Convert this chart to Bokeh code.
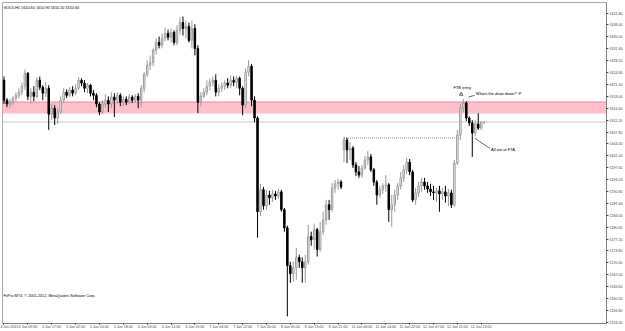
from bokeh.plotting import figure
from bokeh.models import Range1d, FixedTicker, BoxAnnotation, Span, Label, ColumnDataSource
from bokeh.embed import file_html
from bokeh.resources import INLINE

# ---- GOLD,H1 candles (bar index 0 = 4 Jun 2012 01:00) ----
opens = [1622.6, 1616.9, 1615.8, 1616.3, 1617.5, 1618.3, 1619.2, 1620.9, 1624.6, 1618.0,
         1619.2, 1618.0, 1622.6, 1620.6, 1618.9, 1620.3, 1612.9, 1614.6, 1611.8, 1613.5,
         1616.9, 1619.2, 1618.3, 1619.8, 1618.9, 1620.3, 1622.6, 1621.8, 1620.3, 1621.2,
         1618.9, 1618.3, 1615.8, 1613.5, 1615.8, 1616.9, 1615.8, 1617.8, 1616.9, 1618.3,
         1616.3, 1617.2, 1616.3, 1617.8, 1616.9, 1618.0, 1616.9, 1620.3, 1624.3, 1626.9,
         1627.7, 1631.2, 1633.4, 1632.6, 1634.6, 1636.0, 1634.9, 1636.3, 1633.4, 1636.9,
         1639.1, 1637.4, 1638.0, 1634.0, 1637.4, 1631.7, 1616.3, 1618.0, 1619.2, 1620.9,
         1622.0, 1622.6, 1619.2, 1620.3, 1620.9, 1621.8, 1621.2, 1622.6, 1622.0, 1623.2,
         1620.3, 1615.5, 1624.9, 1626.6, 1616.9, 1611.8, 1585.0, 1591.3, 1586.7, 1589.8,
         1589.0, 1590.1, 1589.5, 1590.7, 1585.6, 1580.4, 1569.6, 1567.3, 1569.0, 1571.9,
         1570.7, 1569.0, 1570.7, 1577.9, 1577.0, 1579.9, 1574.2, 1579.3, 1582.7, 1587.0,
         1585.6, 1591.8, 1593.0, 1593.5, 1602.7, 1605.5, 1602.7, 1603.2, 1598.4, 1596.4,
         1595.5, 1597.5, 1599.8, 1600.7, 1597.0, 1593.5, 1589.8, 1591.3, 1592.4, 1592.7,
         1585.6, 1587.0, 1589.8, 1592.4, 1594.7, 1597.0, 1599.2, 1596.4, 1588.4, 1590.4,
         1592.4, 1593.5, 1592.4, 1591.5, 1590.7, 1590.4, 1591.0, 1590.1, 1590.7, 1589.5,
         1590.4, 1587.0, 1598.9, 1606.9, 1614.6, 1616.1, 1611.8, 1610.4, 1607.5, 1610.1,
         1608.9, 1610.6]
closes = [1616.9, 1615.8, 1616.3, 1617.5, 1618.3, 1619.2, 1620.9, 1624.6, 1618.0, 1619.2,
          1618.0, 1622.6, 1620.6, 1618.9, 1620.3, 1612.9, 1614.6, 1611.8, 1613.5, 1616.9,
          1619.2, 1618.3, 1619.8, 1618.9, 1620.3, 1622.6, 1621.8, 1620.3, 1621.2, 1618.9,
          1618.3, 1615.8, 1613.5, 1615.8, 1616.9, 1615.8, 1617.8, 1616.9, 1618.3, 1616.3,
          1617.2, 1616.3, 1617.8, 1616.9, 1618.0, 1616.9, 1620.3, 1624.3, 1626.9, 1627.7,
          1631.2, 1633.4, 1632.6, 1634.6, 1636.0, 1634.9, 1636.3, 1633.4, 1636.9, 1639.1,
          1637.4, 1638.0, 1634.0, 1637.4, 1631.7, 1616.3, 1618.0, 1619.2, 1620.9, 1622.0,
          1622.6, 1619.2, 1620.3, 1620.9, 1621.8, 1621.2, 1622.6, 1622.0, 1623.2, 1620.3,
          1615.5, 1624.9, 1626.6, 1616.9, 1611.8, 1585.0, 1591.3, 1586.7, 1589.8, 1589.0,
          1590.1, 1589.5, 1590.7, 1585.6, 1580.4, 1569.6, 1567.3, 1569.0, 1571.9, 1570.7,
          1569.0, 1570.7, 1577.9, 1577.0, 1579.9, 1574.2, 1579.3, 1582.7, 1587.0, 1585.6,
          1591.8, 1593.0, 1593.5, 1592.1, 1605.5, 1602.7, 1603.2, 1598.4, 1596.4, 1595.5,
          1597.5, 1599.8, 1600.7, 1597.0, 1593.5, 1589.8, 1591.3, 1592.4, 1592.7, 1585.6,
          1587.0, 1589.8, 1592.4, 1594.7, 1597.0, 1599.2, 1596.4, 1588.4, 1590.4, 1592.4,
          1593.5, 1592.4, 1591.5, 1590.7, 1590.4, 1591.0, 1590.1, 1590.7, 1589.5, 1590.4,
          1587.0, 1598.9, 1606.9, 1614.6, 1616.1, 1611.8, 1610.4, 1607.5, 1610.1, 1608.9,
          1610.6, 1610.6]
highs = [1623.7, 1617.5, 1617.2, 1618.0, 1619.2, 1620.3, 1622.0, 1625.7, 1624.9, 1620.3,
         1620.9, 1623.5, 1623.7, 1621.2, 1622.0, 1621.2, 1615.8, 1615.5, 1614.6, 1618.0,
         1620.3, 1620.0, 1620.6, 1620.9, 1621.5, 1623.5, 1623.2, 1622.6, 1621.8, 1621.5,
         1619.8, 1618.9, 1616.3, 1616.9, 1618.6, 1618.0, 1619.2, 1618.9, 1619.2, 1618.9,
         1618.0, 1618.0, 1618.6, 1618.3, 1618.6, 1618.9, 1621.2, 1624.9, 1628.3, 1629.7,
         1631.7, 1634.6, 1635.1, 1636.0, 1637.7, 1637.1, 1637.4, 1636.9, 1638.3, 1640.6,
         1640.8, 1639.7, 1639.1, 1639.7, 1638.6, 1632.6, 1619.2, 1620.3, 1622.6, 1623.2,
         1623.7, 1624.3, 1621.5, 1622.0, 1622.6, 1623.2, 1624.0, 1623.7, 1624.0, 1623.7,
         1620.9, 1626.0, 1628.3, 1627.2, 1618.0, 1612.3, 1593.0, 1592.1, 1591.3, 1591.0,
         1591.3, 1591.0, 1591.5, 1591.3, 1586.1, 1581.0, 1570.7, 1570.7, 1574.7, 1572.7,
         1571.9, 1572.7, 1581.3, 1579.3, 1581.6, 1580.4, 1582.1, 1585.0, 1588.4, 1588.4,
         1593.2, 1594.1, 1594.4, 1594.1, 1606.4, 1606.1, 1604.9, 1603.8, 1599.2, 1598.1,
         1598.4, 1600.9, 1602.4, 1601.5, 1597.5, 1594.1, 1592.4, 1593.2, 1595.5, 1593.2,
         1589.8, 1591.3, 1593.2, 1596.4, 1598.4, 1600.4, 1600.1, 1597.0, 1591.8, 1593.5,
         1594.7, 1594.7, 1593.5, 1593.0, 1592.4, 1591.8, 1592.4, 1591.8, 1592.4, 1591.5,
         1591.3, 1599.8, 1608.4, 1615.8, 1617.2, 1616.6, 1612.3, 1611.2, 1611.2, 1613.2,
         1610.9, 1610.9]
lows = [1615.8, 1614.9, 1614.6, 1615.5, 1616.6, 1617.5, 1618.3, 1619.8, 1616.9, 1615.8,
        1616.6, 1617.5, 1619.8, 1616.9, 1617.8, 1608.4, 1611.2, 1609.8, 1610.1, 1612.9,
        1616.1, 1617.5, 1617.8, 1618.0, 1618.3, 1619.8, 1620.9, 1619.2, 1618.9, 1618.0,
        1616.9, 1614.9, 1612.6, 1612.9, 1614.9, 1613.5, 1614.6, 1612.1, 1615.8, 1615.2,
        1615.2, 1615.5, 1615.8, 1616.1, 1616.1, 1614.6, 1614.9, 1619.2, 1623.5, 1625.5,
        1626.6, 1630.0, 1631.7, 1631.7, 1633.7, 1634.0, 1633.4, 1632.6, 1632.6, 1635.7,
        1635.4, 1634.6, 1633.4, 1631.7, 1629.7, 1613.2, 1615.2, 1617.5, 1618.3, 1619.8,
        1620.9, 1618.0, 1618.0, 1619.2, 1619.8, 1620.3, 1620.3, 1620.9, 1620.3, 1618.3,
        1612.6, 1614.6, 1623.7, 1615.2, 1610.6, 1577.6, 1583.8, 1585.6, 1585.6, 1587.0,
        1587.8, 1588.4, 1588.7, 1585.0, 1579.3, 1555.1, 1564.7, 1565.0, 1565.6, 1569.0,
        1564.7, 1564.7, 1569.9, 1575.3, 1574.2, 1572.2, 1573.6, 1578.4, 1581.3, 1582.7,
        1585.0, 1590.4, 1591.3, 1591.5, 1599.2, 1598.9, 1599.8, 1597.5, 1595.2, 1594.7,
        1594.7, 1597.0, 1598.4, 1596.4, 1592.4, 1587.0, 1589.0, 1590.1, 1590.7, 1582.1,
        1580.7, 1585.0, 1588.4, 1591.3, 1593.5, 1595.8, 1595.5, 1587.8, 1587.0, 1589.3,
        1590.7, 1591.3, 1590.4, 1589.5, 1588.4, 1587.8, 1585.0, 1588.4, 1587.6, 1586.7,
        1586.1, 1586.4, 1598.4, 1605.5, 1613.5, 1610.9, 1609.5, 1600.7, 1606.6, 1608.4,
        1608.4, 1610.1]

x_tick_bars = [0, 8, 16, 24, 32, 40, 48, 56, 64, 72, 80, 88, 96, 104, 112, 120, 128, 136, 144, 152, 160]
x_tick_labels = ["4 Jun 2012", "4 Jun 09:00", "4 Jun 17:00", "5 Jun 02:00", "5 Jun 10:00",
                 "5 Jun 18:00", "6 Jun 03:00", "6 Jun 11:00", "6 Jun 19:00", "7 Jun 04:00",
                 "7 Jun 12:00", "7 Jun 20:00", "8 Jun 05:00", "8 Jun 13:00", "8 Jun 21:00",
                 "11 Jun 06:00", "11 Jun 14:00", "11 Jun 22:00", "12 Jun 07:00",
                 "12 Jun 15:00", "12 Jun 23:00"]
y_ticks = [1641.8, 1638.4, 1635.0, 1631.6, 1628.2, 1624.8, 1621.4, 1618.0, 1614.6, 1611.2,
           1607.8, 1604.4, 1601.0, 1597.6, 1594.2, 1590.8, 1587.4, 1584.0, 1580.6, 1577.2,
           1573.8, 1570.4, 1567.0, 1563.6, 1560.2, 1556.8, 1553.4]
y_tick_labels = ["%.2f" % t for t in y_ticks]

zone_top = 1616.4
zone_bottom = 1613.1
bid_price = 1610.65
fta_price = 1606.1
fta_bars = [114, 153]

title_text = "GOLD,H1  1610.60 1610.90 1610.10 1610.60"
copyright_text = "FxPro MT4, \u00a9 2001-2012, MetaQuotes Software Corp."

FONT = "Liberation Sans"
FS = "3.6px"

bars = list(range(len(opens)))
up = [i for i in bars if closes[i] >= opens[i]]
dn = [i for i in bars if closes[i] < opens[i]]

def make_src(ids):
    return ColumnDataSource(dict(
        x=ids,
        h=[highs[i] for i in ids],
        l=[lows[i] for i in ids],
        top=[max(opens[i], closes[i]) for i in ids],
        bot=[min(opens[i], closes[i]) for i in ids],
    ))

src_up = make_src(up)
src_dn = make_src(dn)

p = figure(width=625, height=331,
           x_range=Range1d(-0.5, 202.0), y_range=Range1d(1553.06, 1644.83),
           output_backend="svg", toolbar_location=None, y_axis_location="right",
           min_border_left=2, min_border_top=2, min_border_right=0, min_border_bottom=0)
p.grid.visible = False
p.background_fill_color = "white"
p.border_fill_color = "white"
p.outline_line_color = "#a8a8a8"
p.outline_line_width = 1

# zone, lines
p.add_layout(BoxAnnotation(top=zone_top, bottom=zone_bottom, fill_color="#ffc0cb",
                           fill_alpha=1.0, line_color=None, level="underlay"))
p.add_layout(Span(location=zone_top, dimension="width", line_color="#c04050",
                  line_dash="1 1", line_width=1, level="underlay"))
p.add_layout(Span(location=bid_price, dimension="width", line_color="#c8c8c8",
                  line_width=1, level="underlay"))
p.line(x=fta_bars, y=[fta_price, fta_price], line_color="#a08060", line_dash="1 1",
       line_width=1)

# candles
p.segment(x0="x", y0="l", x1="x", y1="h", source=src_up, line_color="#9a9a9a", line_width=1)
p.segment(x0="x", y0="l", x1="x", y1="h", source=src_dn, line_color="black", line_width=1)
p.vbar(x="x", top="top", bottom="bot", width=0.5, source=src_up,
       fill_color="white", line_color="#9a9a9a", line_width=1)
p.vbar(x="x", top="top", bottom="bot", width=0.5, source=src_dn,
       fill_color="black", line_color="black", line_width=1)

# axes
yax = p.yaxis[0]
yax.ticker = FixedTicker(ticks=y_ticks)
yax.major_label_overrides = {t: s for t, s in zip(y_ticks, y_tick_labels)}
yax.major_label_text_font = FONT
yax.major_label_text_font_size = FS
yax.major_label_standoff = 1
yax.major_tick_out = 2
yax.major_tick_in = 0
yax.minor_tick_out = 0
yax.minor_tick_in = 0
yax.axis_line_color = "#808080"
yax.major_tick_line_color = "#404040"

xax = p.xaxis[0]
xax.ticker = FixedTicker(ticks=x_tick_bars)
xax.major_label_overrides = {t: s for t, s in zip(x_tick_bars, x_tick_labels)}
xax.major_label_text_font = FONT
xax.major_label_text_font_size = FS
xax.major_label_text_align = "left"
xax.major_label_standoff = 0
xax.major_tick_out = 1
xax.major_tick_in = 0
xax.minor_tick_out = 0
xax.minor_tick_in = 0
xax.axis_line_color = "#808080"

# price tags on the right scale
p.add_layout(Label(x=202.0, y=zone_top, x_offset=1, text="%.2f" % zone_top,
                   text_font=FONT, text_font_size=FS, text_color="white",
                   text_baseline="middle", background_fill_color="#c03040"))
p.add_layout(Label(x=202.0, y=bid_price, x_offset=1, text="%.2f" % bid_price,
                   text_font=FONT, text_font_size=FS, text_color="white",
                   text_baseline="middle", background_fill_color="black"))

# texts
p.add_layout(Label(x=-0.2, y=1643.4, text=title_text, text_font=FONT,
                   text_font_size="3.8px", text_color="black", text_baseline="middle"))
p.add_layout(Label(x=-0.2, y=1560.8, text=copyright_text, text_font=FONT,
                   text_font_size="3.8px", text_color="black", text_baseline="middle"))

# annotations by the trader
p.add_layout(Label(x=150.7, y=1620.6, text="FTB entry", text_font=FONT,
                   text_font_size="4px", text_color="black", text_baseline="middle"))
p.scatter(x=[153.3], y=[1618.6], marker="triangle", size=3.5, fill_color="white",
          line_color="black", line_width=0.6)
p.segment(x0=[155.7], y0=[1617.8], x1=[157.8], y1=[1618.3], line_color="black", line_width=0.6)
p.add_layout(Label(x=158.2, y=1618.9, text="Whats the draw down?  :P", text_font=FONT,
                   text_font_size="4px", text_color="black", text_baseline="middle"))
p.segment(x0=[157.9], y0=[1606.0], x1=[162.9], y1=[1603.1], line_color="black", line_width=0.6)
p.add_layout(Label(x=163.3, y=1602.9, text="All out at FTA", text_font=FONT,
                   text_font_size="4px", text_color="black", text_baseline="middle"))

open("out.html", "w").write(file_html(p, INLINE))
